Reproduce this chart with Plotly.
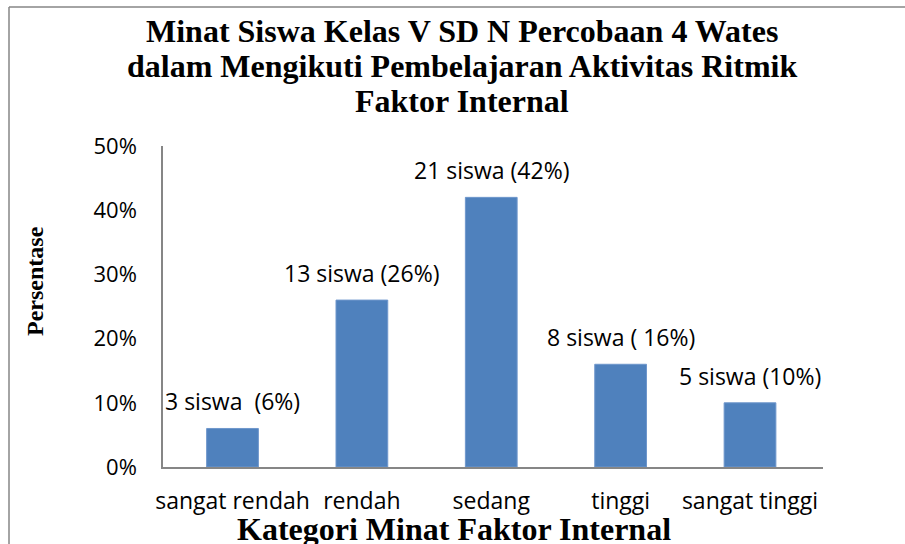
import plotly.graph_objects as go

categories = ["sangat rendah", "rendah", "sedang", "tinggi", "sangat tinggi"]
percent = [0.06, 0.26, 0.42, 0.16, 0.10]
labels = ["3 siswa  (6%)", "13 siswa (26%)", "21 siswa (42%)", "8 siswa ( 16%)", "5 siswa (10%)"]
y_ticks = [0, 0.1, 0.2, 0.3, 0.4, 0.5]
y_tick_text = ["0%", "10%", "20%", "30%", "40%", "50%"]
title_lines = ["Minat Siswa Kelas V SD N Percobaan 4 Wates",
               "dalam Mengikuti Pembelajaran Aktivitas Ritmik",
               "Faktor Internal"]

W, H = 905, 544
L, R, T, B = 163, 82, 146, 77
pw, ph = W - L - R, H - T - B

def px_x(px):
    return (px - L) / pw

def px_y(py):
    return (H - B - py) / ph

sans = "Open Sans"
serif = "Liberation Serif"

fig = go.Figure()
fig.add_trace(go.Bar(
    x=categories, y=percent,
    marker=dict(color="#4F81BD", line=dict(color="#6F97CC", width=1)),
    width=0.4,
))

for c, v, t in zip(categories, percent, labels):
    fig.add_annotation(x=c, y=v, text=t, showarrow=False, yshift=27,
                       yanchor="middle", font=dict(family=sans, size=23, color="#000"))

fig.update_layout(
    width=W, height=H,
    margin=dict(l=L, r=R, t=T, b=B, pad=0),
    paper_bgcolor="white", plot_bgcolor="white",
    showlegend=False,
    xaxis=dict(
        showline=True, linecolor="#868686", linewidth=1.5,
        ticks="", showgrid=False, zeroline=False,
        tickfont=dict(family=sans, size=23, color="#000"),
        ticklabelstandoff=13,
    ),
    yaxis=dict(
        range=[0, 0.5], tickvals=y_ticks, ticktext=y_tick_text,
        showline=True, linecolor="#868686", linewidth=1.5,
        ticks="", showgrid=False, zeroline=False,
        tickfont=dict(family=sans, size=22, color="#000"),
        ticklabelstandoff=20,
    ),
)

for line, cy in zip(title_lines, [31, 66, 101]):
    fig.add_annotation(xref="paper", yref="paper", x=px_x(462), y=px_y(cy),
                       text="<b>" + line + "</b>", showarrow=False,
                       xanchor="center", yanchor="middle",
                       font=dict(family=serif, size=32, color="#000"))

fig.add_annotation(xref="paper", yref="paper", x=px_x(454), y=px_y(529),
                   text="<b>Kategori Minat Faktor Internal</b>", showarrow=False,
                   xanchor="center", yanchor="middle",
                   font=dict(family=serif, size=32, color="#000"))
fig.add_annotation(xref="paper", yref="paper", x=px_x(35), y=px_y(281),
                   text="<b>Persentase</b>", showarrow=False, textangle=-90,
                   xanchor="center", yanchor="middle",
                   font=dict(family=serif, size=24, color="#000"))

# chart border (left and top visible)
fig.add_shape(type="line", xref="paper", yref="paper",
              x0=px_x(9), x1=px_x(9), y0=px_y(7), y1=px_y(560),
              line=dict(color="#868686", width=1.5))
fig.add_shape(type="line", xref="paper", yref="paper",
              x0=px_x(9), x1=px_x(920), y0=px_y(7), y1=px_y(7),
              line=dict(color="#868686", width=1.5))

fig.write_html("out.html",
               config={"displayModeBar": False},
               post_script="document.body.style.margin='0';document.body.style.overflow='hidden';")
